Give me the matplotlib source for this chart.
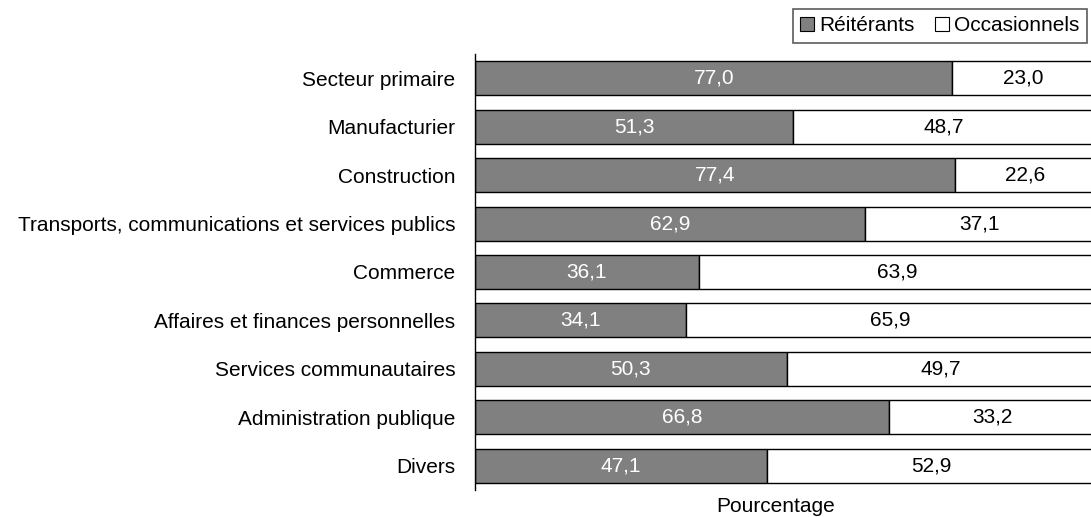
import matplotlib.pyplot as plt
from matplotlib.patches import Patch

plt.rcParams['font.family'] = ['Liberation Sans', 'DejaVu Sans']

sectors = [
    'Secteur primaire',
    'Manufacturier',
    'Construction',
    'Transports, communications et services publics',
    'Commerce',
    'Affaires et finances personnelles',
    'Services communautaires',
    'Administration publique',
    'Divers',
]
reiterants = [77.0, 51.3, 77.4, 62.9, 36.1, 34.1, 50.3, 66.8, 47.1]
occasionnels = [23.0, 48.7, 22.6, 37.1, 63.9, 65.9, 49.7, 33.2, 52.9]

FS = 15


def fmt(v):
    return f"{v:.1f}".replace('.', ',')


fig = plt.figure(figsize=(10.91, 5.17), dpi=100)
# the 100 % end of the bars runs past the right edge of the figure
ax = fig.add_axes([475 / 1091, 1 - 490 / 517, 620 / 1091, 436 / 517])

pos = list(range(len(sectors)))
ax.barh(pos, reiterants, height=0.7, color='#808080', edgecolor='black', linewidth=1)
ax.barh(pos, occasionnels, left=reiterants, height=0.7, color='white',
        edgecolor='black', linewidth=1)

for i in pos:
    r = reiterants[i]
    o = occasionnels[i]
    ax.text(r / 2, i, fmt(r), ha='center', va='center', color='white', fontsize=FS)
    ax.text(r + o / 2, i, fmt(o), ha='center', va='center', color='black', fontsize=FS)

ax.set_xlim(0, 100)
ax.set_ylim(8.5, -0.5)
ax.set_yticks(pos)
ax.set_yticklabels(sectors, fontsize=FS)
ax.tick_params(axis='y', length=0, pad=14)
ax.set_xticks([])
for side in ['top', 'right', 'bottom']:
    ax.spines[side].set_visible(False)
ax.spines['left'].set_linewidth(1)

fig.text(776 / 1091, 1 - 506 / 517, 'Pourcentage', ha='center', va='center', fontsize=FS)

handles = [Patch(facecolor='#808080', edgecolor='black', linewidth=0.8),
           Patch(facecolor='white', edgecolor='black', linewidth=0.8)]
leg = fig.legend(handles, ['Réitérants', 'Occasionnels'], ncol=2,
                 loc='upper right', bbox_to_anchor=(1087 / 1091, 1 - 9 / 517),
                 fontsize=FS, frameon=True, fancybox=False, borderpad=0.35,
                 handlelength=0.67, handleheight=0.67, handletextpad=0.25,
                 columnspacing=1.0, borderaxespad=0)
leg.get_frame().set_edgecolor('#333333')
leg.get_frame().set_linewidth(1.2)

fig.savefig('out.png', dpi=100)
